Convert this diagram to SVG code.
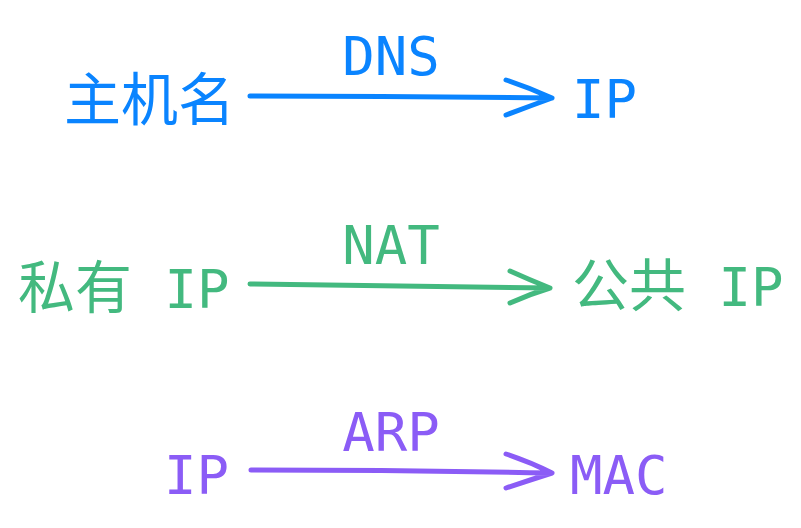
<svg xmlns="http://www.w3.org/2000/svg" width="801" height="528" viewBox="0 0 801 528">
<style>
text{font-family:"DejaVu Sans Mono","Noto Sans CJK SC",monospace;font-size:54px}
.k{font-family:"Noto Sans CJK SC",sans-serif;font-size:57px}
.b{fill:#0a84ff}.g{fill:#43b97f}.p{fill:#8b5cf6}
.c{fill:none;stroke-width:5;stroke-linecap:round;stroke-linejoin:round}
</style>
<rect width="801" height="528" fill="#fff"/>
<g id="hostname"><text class="b" x="64" y="120"><tspan class="k">主机名</tspan></text></g>
<g id="ip1"><text class="b" x="572" y="118">IP</text></g>
<g id="private-ip"><text class="g" x="18" y="308"><tspan class="k">私有</tspan> IP</text></g>
<g id="public-ip"><text class="g" x="572" y="306"><tspan class="k">公共</tspan> IP</text></g>
<g id="ip3"><text class="p" x="164" y="494">IP</text></g>
<g id="mac"><text class="p" x="570" y="494">MAC</text></g>
<g id="connectors">
<path class="c" stroke="#0a84ff" d="M250 96 Q400 96 552 98 M506 80 Q530 88 552 98 M506 115 Q530 106 552 98"/>
<text class="b" x="391" y="75" text-anchor="middle">DNS</text>
<path class="c" stroke="#43b97f" d="M250 284 Q400 286 550 288 M510 271 Q530 280 550 288 M510 303 Q530 294 550 288"/>
<text class="g" x="391" y="264" text-anchor="middle">NAT</text>
<path class="c" stroke="#8b5cf6" d="M251 470 Q400 470 552 473 M506 454 Q530 462 552 473 M506 488 Q530 480 552 473"/>
<text class="p" x="391" y="451" text-anchor="middle">ARP</text>
</g>
</svg>
